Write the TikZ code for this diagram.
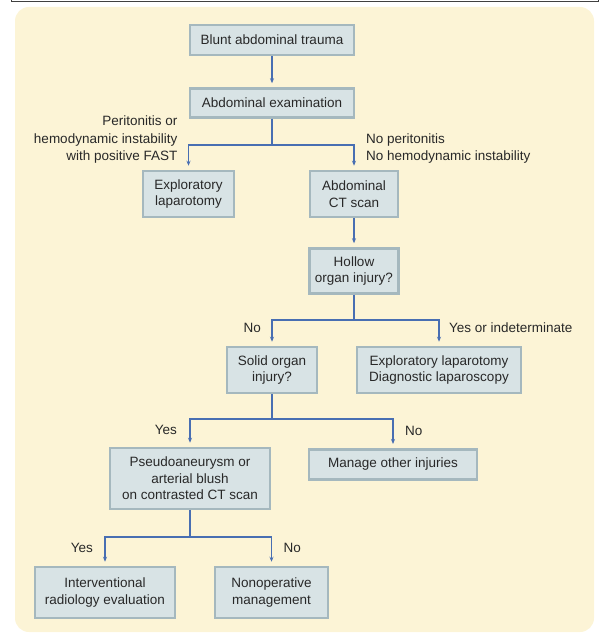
\documentclass[tikz,border=0pt]{standalone}
\usepackage{fontspec}
\setmainfont{Liberation Sans}
\usepackage{tikz}
\usetikzlibrary{arrows.meta, positioning}
\definecolor{bgcream}{RGB}{252,244,214}
\definecolor{boxfill}{RGB}{216,227,229}
\definecolor{boxedge}{RGB}{165,184,190}
\definecolor{flowblue}{RGB}{72,110,178}
\definecolor{txtgray}{RGB}{40,40,40}
\tikzstyle{block} = [rectangle, draw=boxedge, fill=boxfill, line width=2.5pt, text centered, align=center, inner sep=0pt, text=txtgray]
\tikzstyle{arrow} = [line width=1.8pt, draw=flowblue, -{Stealth[length=5pt,width=4pt]}, shorten >=4pt]
\tikzstyle{line} = [line width=1.8pt, draw=flowblue]
\tikzstyle{lbl} = [inner sep=0pt, text=txtgray, font=\fontsize{13.5}{17.5}\selectfont]

\begin{document}
\begin{tikzpicture}[x=1pt, y=-1pt, font=\fontsize{13.5}{16.5}\selectfont]

        \useasboundingbox (0,0) rectangle (600,636);
        \fill [bgcream, rounded corners=14pt] (15,7) rectangle (594,632);
        \draw [line width=1pt, black!75] (11,0) -- (11,2) -- (598,2) -- (598,0);

        \node (blunt) [block, minimum width=164pt, minimum height=30pt] at (272,40) {Blunt abdominal trauma};
        \node (exam) [block, minimum width=164pt, minimum height=29pt, below=31pt of blunt] {Abdominal examination};
        \node (explap) [block, minimum width=91pt, minimum height=46pt] at (188.5,194) {Exploratory\\laparotomy};
        \node (ct) [block, minimum width=88pt, minimum height=46pt] at (354,194) {Abdominal\\CT scan};
        \node (hollow) [block, minimum width=89pt, minimum height=45pt, below=29pt of ct] {Hollow\\organ injury?};
        \node (solid) [block, minimum width=90pt, minimum height=46pt] at (272,370) {Solid organ\\injury?};
        \node (expdiag) [block, minimum width=164pt, minimum height=46pt] at (439,370) {Exploratory laparotomy\\Diagnostic laparoscopy};
        \node (pseudo) [block, minimum width=160pt, minimum height=61pt] at (190,478.5) {Pseudoaneurysm or\\arterial blush\\on contrasted CT scan};
        \node (manage) [block, minimum width=168pt, minimum height=30pt, anchor=north] at (393,448) {Manage other injuries};
        \node (interv) [block, minimum width=140pt, minimum height=51pt] at (105,592.5) {Interventional\\radiology evaluation};
        \node (nonop) [block, minimum width=113pt, minimum height=51pt] at (271.5,592.5) {Nonoperative\\management};

        % junctions
        \coordinate (j1) at ([yshift=-26pt]exam.south);
        \coordinate (j2) at ([yshift=-25pt]hollow.south);
        \coordinate (j3) at ([yshift=-25pt]solid.south);
        \coordinate (j4) at ([yshift=-27pt]pseudo.south);

        % arrows
        \draw [arrow] (blunt) -- (exam);
        \draw [line] (exam.south) -- (j1);
        \draw [arrow] (j1) -| (explap.north);
        \draw [arrow] (j1) -| (ct.north);
        \draw [arrow] (ct) -- (hollow);
        \draw [line] (hollow.south) -- (j2);
        \draw [arrow] (j2) -| (solid.north);
        \draw [arrow] (j2) -| (expdiag.north);
        \draw [line] (solid.south) -- (j3);
        \draw [arrow] (j3) -| (pseudo.north);
        \draw [arrow] (j3) -| (manage.north);
        \draw [line] (pseudo.south) -- (j4);
        \draw [arrow] (j4) -| (interv.north);
        \draw [arrow] (j4) -| (nonop.north);

        % branch labels
        \node [lbl, anchor=south east, align=right] at ([xshift=-11pt, yshift=6pt]explap.north) {Peritonitis or\\hemodynamic instability\\with positive FAST};
        \node [lbl, anchor=south west, align=left] at ([xshift=12pt, yshift=6pt]ct.north) {No peritonitis\\No hemodynamic instability};
        \node [lbl, anchor=east] at ([xshift=-11pt, yshift=18pt]solid.north) {No};
        \node [lbl, anchor=west] at ([xshift=10pt, yshift=18pt]expdiag.north) {Yes or indeterminate};
        \node [lbl, anchor=east] at ([xshift=-13pt, yshift=17pt]pseudo.north) {Yes};
        \node [lbl, anchor=west] at ([xshift=12pt, yshift=17pt]manage.north) {No};
        \node [lbl, anchor=east] at ([xshift=-12pt, yshift=18pt]interv.north) {Yes};
        \node [lbl, anchor=west] at ([xshift=12pt, yshift=18pt]nonop.north) {No};

\end{tikzpicture}
\end{document}
